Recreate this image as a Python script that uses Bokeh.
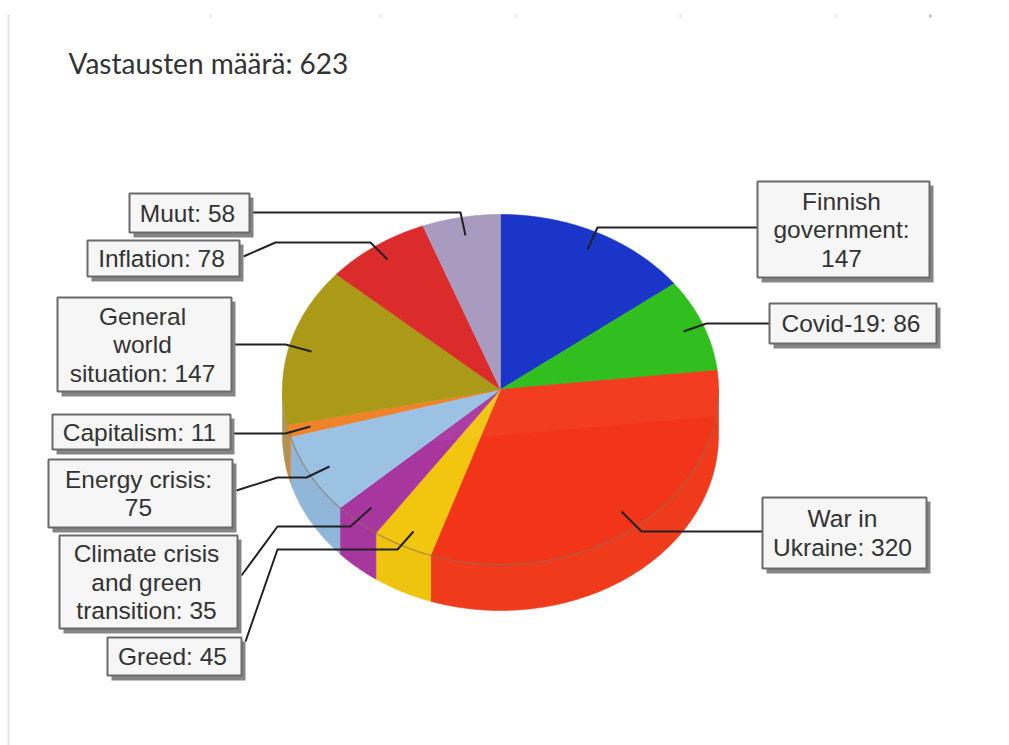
import numpy as np
from bokeh.core.properties import value
from bokeh.embed import file_html
from bokeh.models import Range1d
from bokeh.plotting import figure
from bokeh.resources import INLINE

# Survey answers, clockwise from twelve o'clock
categories = ["Finnish government", "Covid-19", "War in Ukraine", "Greed",
              "Climate crisis and green transition", "Energy crisis", "Capitalism",
              "General world situation", "Inflation", "Muut"]
answers = [147, 86, 320, 45, 35, 75, 11, 147, 78, 58]
label_templates = ["Finnish\ngovernment:\n{}", "Covid-19: {}", "War in\nUkraine: {}", "Greed: {}",
                   "Climate crisis\nand green\ntransition: {}", "Energy crisis:\n{}", "Capitalism: {}",
                   "General\nworld\nsituation: {}", "Inflation: {}", "Muut: {}"]
response_title = "Vastausten määrä: 623"

top_colors = ["#1a35c8", "#30bf1e", "#f23518", "#f2c50f", "#a8369f",
              "#9cc2e3", "#f0822a", "#aa9a18", "#dc2b2b", "#a99bc0"]
side_colors = ["#1a35c8", "#30bf1e", "#ef3a1c", "#efc40f", "#a8369f",
               "#90b6da", "#c98b3c", "#a8965a", "#dc2b2b", "#a99bc0"]

# Layout in page pixels: (left, top, right, bottom) of each callout box
boxes = [(757, 181, 929, 277), (769, 303, 936, 343), (762, 497, 926, 568), (107, 637, 241, 675),
         (59, 535, 237, 628), (48, 459, 232, 527), (52, 414, 230, 449),
         (57, 297, 231, 391), (87, 240, 239, 276), (129, 193, 249, 232)]
leaders = [
    [(757, 227), (597, 227), (587, 249)],
    [(769, 323), (706, 323), (683, 331)],
    [(762, 531), (641, 531), (621, 511)],
    [(245, 641), (277, 549), (397, 549), (413, 531)],
    [(241, 575), (277, 526), (350, 526), (371, 507)],
    [(236, 490), (277, 477), (306, 477), (329, 466)],
    [(231, 433), (285, 433), (310, 426)],
    [(231, 344), (285, 344), (311, 351)],
    [(243, 256), (275, 242), (370, 242), (387, 259)],
    [(249, 212), (460, 212), (465, 235)],
]
CX, CY, RX, RY, DEPTH = 500, 389, 218, 175, 46
LINE_HEIGHT = 28.5

p = figure(width=1009, height=745, output_backend="svg", toolbar_location=None,
           x_range=Range1d(0, 1009), y_range=Range1d(745, 0), min_border=0,
           x_axis_location=None, y_axis_location=None)
p.grid.visible = False
p.outline_line_color = None
p.background_fill_color = "white"
p.border_fill_color = "white"


def rim(a0, a1, dy=0.0):
    t = np.radians(np.linspace(a0, a1, max(int(abs(a1 - a0)) * 2, 2)))
    return CX + RX * np.sin(t), CY + RY * -np.cos(t) + dy


# Page edge and the cropped marks along the top of the screenshot
p.line([8, 8], [14, 745], line_color="#e4e4e4", line_width=2)
p.segment(x0=[210, 380, 515, 680, 835, 930], y0=[14] * 6,
          x1=[210, 380, 515, 680, 835, 930], y1=[17] * 6,
          line_color=["#e2e2e2"] * 5 + ["#a8a8a8"], line_width=2)

shares = np.array(answers, dtype=float)
edges = np.concatenate([[0], np.cumsum(shares)]) / shares.sum() * 360

# Front wall of the disc: only the arc between 3 and 9 o'clock faces the viewer
for a0, a1, c in zip(edges[:-1], edges[1:], side_colors):
    lo, hi = max(a0, 90), min(a1, 270)
    if hi <= lo:
        continue
    xt, yt = rim(lo, hi)
    xb, yb = rim(lo, hi, DEPTH)
    p.patch(np.concatenate([xt, xb[::-1]]), np.concatenate([yt, yb[::-1]]),
            fill_color=c, line_color=c, line_width=0.6)

# Top face
outlines = []
for a0, a1, c in zip(edges[:-1], edges[1:], top_colors):
    xs, ys = rim(a0, a1)
    xs, ys = np.concatenate([[CX], xs]), np.concatenate([[CY], ys])
    outlines.append((xs, ys))
    p.patch(xs, ys, fill_color=c, line_color=c, line_width=0.6)

# Sheen across the upper part of the largest slice
xs, ys = outlines[2]
limit = 435 - (xs - CX) * 0.09
p.patch(xs, np.minimum(ys, limit), fill_color="white", fill_alpha=0.045, line_color=None)

# Soft seam where the top face meets the wall
xs, ys = rim(92, 256)
p.line(xs, ys, line_color="#8a6a55", line_alpha=0.55, line_width=1.5)

# Leader lines run from the callout into their slice
p.multi_line([[pt[0] for pt in l] for l in leaders], [[pt[1] for pt in l] for l in leaders],
             line_color="#222222", line_width=2, line_join="round")

# Callouts
left, top, right, bottom = map(np.array, zip(*boxes))
p.quad(left=left + 4, right=right + 4, top=top + 4, bottom=bottom + 5,
       fill_color="#858585", line_color=None)
p.quad(left=left, right=right, top=top, bottom=bottom,
       fill_color="#f6f6f6", line_color="#6a6a6a", line_width=2)

tx, ty, tt = [], [], []
for box, template, v in zip(boxes, label_templates, answers):
    rows = template.format(v).split("\n")
    mid_x = (box[0] + box[2]) / 2 - 2
    mid_y = (box[1] + box[3]) / 2
    for i, row in enumerate(rows):
        tx.append(mid_x)
        ty.append(mid_y + (i - (len(rows) - 1) / 2) * LINE_HEIGHT)
        tt.append(row)
p.text(tx, ty, text=tt, text_font=value("Liberation Sans"), text_font_size="24.5px",
       text_color="#333333", text_align="center", text_baseline="middle")

p.text([68], [62], text=[response_title], text_font=value("Lato"), text_font_size="28px",
       text_color="#333333", text_align="left", text_baseline="middle")

open("out.html", "w").write(file_html(p, INLINE))
